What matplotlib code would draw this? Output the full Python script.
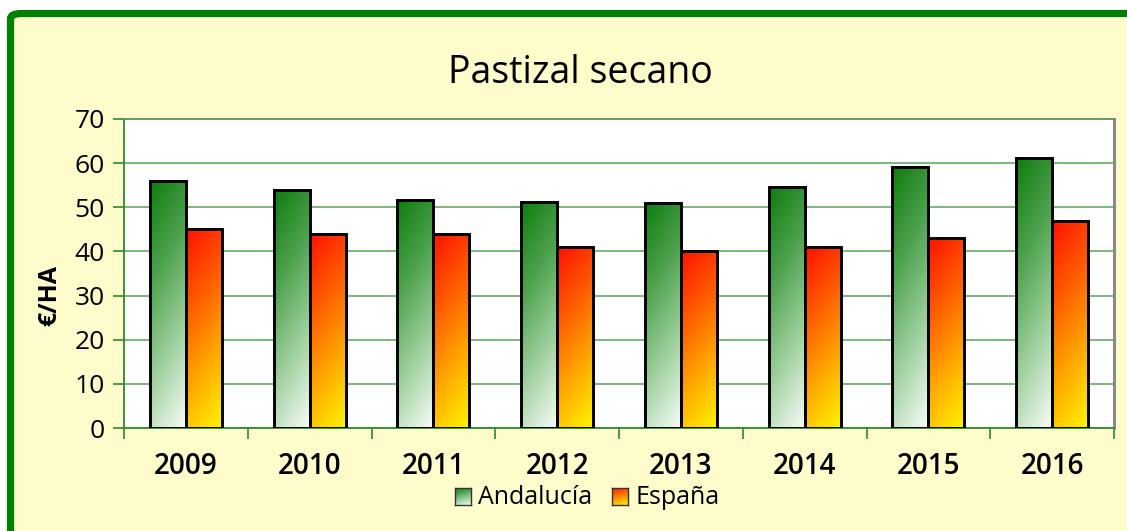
import numpy as np
import matplotlib
matplotlib.use("Agg")
import matplotlib.pyplot as plt
from matplotlib.colors import LinearSegmentedColormap
from matplotlib.patches import Rectangle, FancyBboxPatch

years = ["2009", "2010", "2011", "2012", "2013", "2014", "2015", "2016"]
andalucia = [56, 54, 51.7, 51.2, 51, 54.5, 59.2, 61.2]
espana = [45, 44, 44, 41, 40, 41, 43, 47]
series_names = ["Andalucía", "España"]
title = "Pastizal secano"
ylabel = "€/HA"

W, H = 1127, 531
fig = plt.figure(figsize=(W / 100, H / 100), dpi=100)
fig.patch.set_facecolor("white")

# background panel with green frame
bg = FancyBboxPatch((10.5 / W, -0.2), 1.2, (H - 13.5) / H + 0.2,
                    boxstyle="round,pad=0,rounding_size=0.01",
                    transform=fig.transFigure, facecolor="#fffccc",
                    edgecolor="#008000", linewidth=5.2, zorder=-10)
fig.patches.append(bg)

FONT = ["Open Sans", "DejaVu Sans"]

ax = fig.add_axes([124 / W, (H - 428) / H, 990 / W, 309 / H])
ax.set_facecolor("white")

green_cmap = LinearSegmentedColormap.from_list("g", ["#0f7d0f", "#4ea24e", "#9fd09f", "#f6fbf6"])
orange_cmap = LinearSegmentedColormap.from_list("o", ["#ff1200", "#ff5a00", "#ffa800", "#fff200"])

bw = 0.29
ny, nx = 64, 32
yy, xx = np.mgrid[0:1:ny * 1j, 0:1:nx * 1j]
grad = 0.8 * yy + 0.2 * xx  # top-left 0 -> bottom-right 1

x = np.arange(len(years)) + 0.5
for vals, cmap, off in [(andalucia, green_cmap, -bw / 2), (espana, orange_cmap, bw / 2)]:
    for xi, v in zip(x, vals):
        x0 = xi + off - bw / 2
        rect = Rectangle((x0, 0), bw, v, facecolor="none", edgecolor="black",
                         linewidth=2.1, zorder=4)
        ax.add_patch(rect)
        im = ax.imshow(grad, cmap=cmap, extent=(x0, x0 + bw, 0, v), origin="upper",
                       aspect="auto", zorder=3, interpolation="bilinear")
        im.set_clip_path(rect)

ax.set_xlim(0, len(years))
ax.set_ylim(0, 70)

# grid
ax.set_yticks(range(0, 71, 10))
ax.yaxis.grid(True, color="#6fb46f", linewidth=1.3, zorder=1)
ax.set_axisbelow(True)
ax.tick_params(axis="y", length=8, color="#2e8b2e", width=1.2, pad=6,
               labelsize=19)
for lab in ax.get_yticklabels():
    lab.set_fontfamily(FONT)

ax.set_xticks(np.arange(0, len(years) + 1), minor=False)
ax.set_xticklabels([])
ax.tick_params(axis="x", which="major", length=8, color="#2e8b2e", width=1.2,
               direction="out")
ax.set_xticks(x, minor=True)
ax.set_xticklabels(years, minor=True, fontsize=20, fontweight="semibold", family=FONT)
ax.tick_params(axis="x", which="minor", length=0, pad=17)

for s in ["left", "bottom"]:
    ax.spines[s].set_color("#2e8b2e")
    ax.spines[s].set_linewidth(1.3)
ax.spines["top"].set_color("#5a9a5a")
ax.spines["top"].set_linewidth(1.3)
ax.spines["right"].set_color("#8a8a8a")
ax.spines["right"].set_linewidth(2.2)

ax.set_ylabel(ylabel, fontsize=18, fontweight="bold", family=FONT, labelpad=12)
ax.yaxis.set_label_coords(-0.062, 0.43)

fig.text(580 / W, 1 - 73 / H, title, ha="center", va="center", fontsize=27,
         family=FONT)

# legend (manual, with gradients)
legend_items = [(series_names[0], green_cmap, 455, 478), (series_names[1], orange_cmap, 612, 636)]
for name, cmap, px, tx in legend_items:
    lax = fig.add_axes([px / W, 1 - 505 / H, 16 / W, 17 / H])
    lax.imshow(grad, cmap=cmap, extent=(0, 1, 0, 1), aspect="auto",
               interpolation="bilinear")
    lax.set_xticks([]); lax.set_yticks([])
    for s in lax.spines.values():
        s.set_color("#333333"); s.set_linewidth(1.0)
    fig.text(tx / W, 1 - 497 / H, name, ha="left", va="center", fontsize=18,
             family=FONT)

fig.savefig("out.png", dpi=100, facecolor=fig.get_facecolor())
